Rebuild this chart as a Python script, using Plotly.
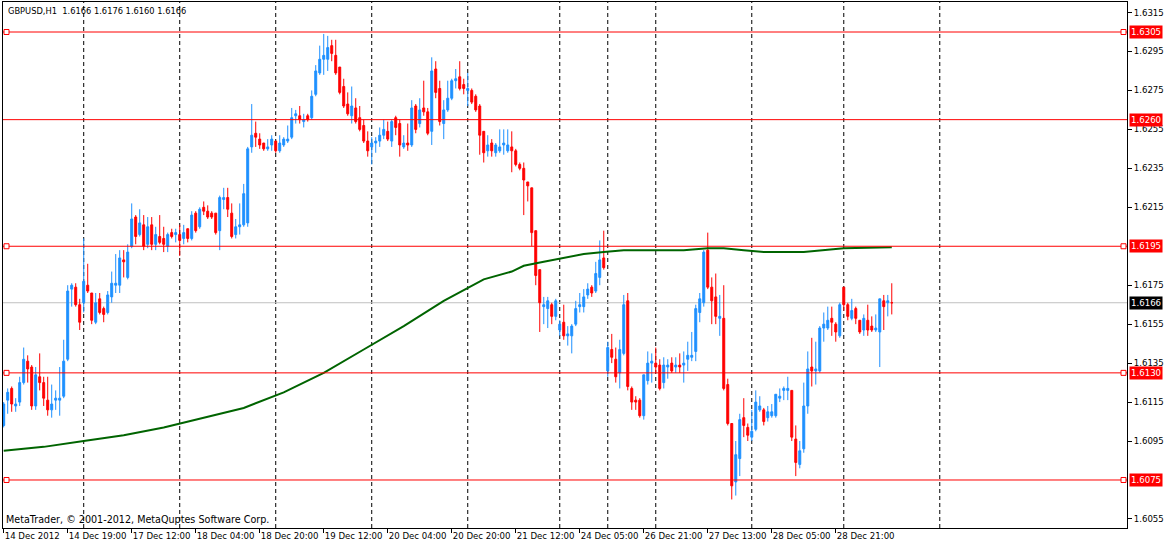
import plotly.graph_objects as go

# GBPUSD H1 bars (x = bar number from the left edge)
opens = [
    1.6103, 1.6116, 1.6122, 1.6113, 1.6115, 1.6125, 1.6136, 1.6133, 1.6113, 1.6128,
    1.6125, 1.6116, 1.6111, 1.6116, 1.6116, 1.6118, 1.6137, 1.6173, 1.6174, 1.6165,
    1.6166, 1.6175, 1.6171, 1.6156, 1.6168, 1.6163, 1.6161, 1.6169, 1.6175, 1.6175,
    1.6188, 1.6179, 1.6195, 1.6210, 1.6201, 1.6206, 1.6196, 1.6206, 1.6196, 1.6200,
    1.6199, 1.6195, 1.6202, 1.6201, 1.6201, 1.6199, 1.6204, 1.6199, 1.6212, 1.6205,
    1.6215, 1.6213, 1.6212, 1.6212, 1.6203, 1.6219, 1.6220, 1.6212, 1.6201, 1.6205,
    1.6206, 1.6207, 1.6246, 1.6253, 1.6250, 1.6248, 1.6245, 1.6247, 1.6249, 1.6244,
    1.6247, 1.6249, 1.6251, 1.6262, 1.6262, 1.6259, 1.6262, 1.6261, 1.6273, 1.6284,
    1.6291, 1.6291, 1.6298, 1.6293, 1.6287, 1.6277, 1.6268, 1.6262, 1.6266, 1.6261,
    1.6257, 1.6249, 1.6246, 1.6248, 1.6249, 1.6252, 1.6254, 1.6249, 1.6261, 1.6258,
    1.6246, 1.6248, 1.6247, 1.6267, 1.6258, 1.6266, 1.6264, 1.6254, 1.6286, 1.6276,
    1.6258, 1.6265, 1.6271, 1.6280, 1.6282, 1.6278, 1.6275, 1.6275, 1.6272, 1.6267,
    1.6254, 1.6244, 1.6248, 1.6243, 1.6244, 1.6247, 1.6244, 1.6246, 1.6244, 1.6237,
    1.6235, 1.6228, 1.6225, 1.6203, 1.6183, 1.6164, 1.6163, 1.6165, 1.6159, 1.6152,
    1.6156, 1.6149, 1.6149, 1.6155, 1.6164, 1.6164, 1.6170, 1.6174, 1.6172, 1.6179,
    1.6189, 1.6131, 1.6142, 1.6137, 1.6130, 1.6140, 1.6167, 1.6122, 1.6116, 1.6116,
    1.6108, 1.6126, 1.6135, 1.6135, 1.6134, 1.6125, 1.6133, 1.6135, 1.6133, 1.6134,
    1.6134, 1.6137, 1.6138, 1.6141, 1.6161, 1.6166, 1.6193, 1.6174, 1.6169, 1.6158,
    1.6158, 1.6124, 1.6104, 1.6074, 1.6086, 1.6107, 1.6102, 1.6097, 1.6101, 1.6111,
    1.6111, 1.6107, 1.6108, 1.6108, 1.6117, 1.6121, 1.6121, 1.6121, 1.6096, 1.6083,
    1.6091, 1.6113, 1.6133, 1.6131, 1.6131, 1.6153, 1.6153, 1.6158, 1.6155, 1.6149,
    1.6174, 1.6165, 1.6158, 1.6163, 1.6157, 1.6152, 1.6157, 1.6154, 1.6152, 1.6151,
    1.6167, 1.6166, 1.6166,
]
highs = [
    1.6115, 1.6122, 1.6123, 1.6117, 1.6128, 1.6143, 1.6139, 1.6134, 1.6133, 1.6140,
    1.6128, 1.6128, 1.6124, 1.6121, 1.6133, 1.6147, 1.6175, 1.6176, 1.6176, 1.6168,
    1.6199, 1.6186, 1.6171, 1.6171, 1.6171, 1.6164, 1.6172, 1.6182, 1.6191, 1.6193,
    1.6193, 1.6196, 1.6217, 1.6211, 1.6214, 1.6211, 1.6210, 1.6210, 1.6205, 1.6211,
    1.6205, 1.6202, 1.6204, 1.6204, 1.6206, 1.6206, 1.6204, 1.6213, 1.6213, 1.6215,
    1.6218, 1.6216, 1.6213, 1.6212, 1.6221, 1.6225, 1.6225, 1.6217, 1.6209, 1.6217,
    1.6227, 1.6246, 1.6268, 1.6259, 1.6253, 1.6248, 1.6250, 1.6252, 1.6249, 1.6252,
    1.6251, 1.6257, 1.6266, 1.6265, 1.6267, 1.6263, 1.6263, 1.6275, 1.6288, 1.6298,
    1.6304, 1.6303, 1.6301, 1.6301, 1.6287, 1.6281, 1.6274, 1.6277, 1.6271, 1.6267,
    1.6260, 1.6254, 1.6251, 1.6251, 1.6256, 1.6260, 1.6259, 1.6260, 1.6262, 1.6260,
    1.6252, 1.6258, 1.6270, 1.6268, 1.6271, 1.6280, 1.6266, 1.6292, 1.6290, 1.6280,
    1.6270, 1.6280, 1.6281, 1.6286, 1.6290, 1.6281, 1.6284, 1.6276, 1.6273, 1.6268,
    1.6254, 1.6252, 1.6250, 1.6248, 1.6255, 1.6255, 1.6255, 1.6254, 1.6245, 1.6238,
    1.6238, 1.6228, 1.6225, 1.6203, 1.6183, 1.6169, 1.6169, 1.6166, 1.6168, 1.6157,
    1.6165, 1.6154, 1.6155, 1.6167, 1.6171, 1.6173, 1.6176, 1.6175, 1.6187, 1.6198,
    1.6203, 1.6146, 1.6150, 1.6143, 1.6147, 1.6170, 1.6171, 1.6123, 1.6118, 1.6117,
    1.6129, 1.6141, 1.6140, 1.6143, 1.6137, 1.6138, 1.6137, 1.6138, 1.6138, 1.6140,
    1.6141, 1.6146, 1.6151, 1.6165, 1.6171, 1.6193, 1.6202, 1.6179, 1.6181, 1.6170,
    1.6175, 1.6127, 1.6104, 1.6095, 1.6109, 1.6117, 1.6104, 1.6111, 1.6121, 1.6118,
    1.6112, 1.6113, 1.6114, 1.6119, 1.6122, 1.6123, 1.6128, 1.6121, 1.6103, 1.6095,
    1.6125, 1.6141, 1.6148, 1.6146, 1.6154, 1.6161, 1.6164, 1.6164, 1.6156, 1.6166,
    1.6174, 1.6166, 1.6168, 1.6164, 1.6157, 1.6160, 1.6165, 1.6159, 1.6160, 1.6168,
    1.6170, 1.6170, 1.6176,
]
lows = [
    1.6102, 1.6109, 1.6110, 1.6110, 1.6113, 1.6124, 1.6125, 1.6111, 1.6111, 1.6121,
    1.6113, 1.6108, 1.6107, 1.6111, 1.6108, 1.6117, 1.6136, 1.6164, 1.6164, 1.6152,
    1.6161, 1.6171, 1.6155, 1.6155, 1.6160, 1.6156, 1.6160, 1.6166, 1.6171, 1.6171,
    1.6179, 1.6178, 1.6194, 1.6196, 1.6200, 1.6193, 1.6194, 1.6193, 1.6193, 1.6196,
    1.6192, 1.6192, 1.6199, 1.6197, 1.6190, 1.6196, 1.6197, 1.6198, 1.6202, 1.6204,
    1.6211, 1.6209, 1.6209, 1.6201, 1.6193, 1.6214, 1.6210, 1.6199, 1.6199, 1.6201,
    1.6205, 1.6205, 1.6243, 1.6246, 1.6245, 1.6244, 1.6244, 1.6244, 1.6243, 1.6243,
    1.6246, 1.6248, 1.6250, 1.6258, 1.6258, 1.6256, 1.6259, 1.6260, 1.6272, 1.6283,
    1.6283, 1.6285, 1.6290, 1.6283, 1.6273, 1.6266, 1.6262, 1.6258, 1.6258, 1.6254,
    1.6248, 1.6241, 1.6237, 1.6243, 1.6246, 1.6250, 1.6249, 1.6246, 1.6252, 1.6241,
    1.6245, 1.6244, 1.6246, 1.6253, 1.6256, 1.6262, 1.6252, 1.6247, 1.6271, 1.6257,
    1.6250, 1.6264, 1.6270, 1.6276, 1.6275, 1.6273, 1.6267, 1.6268, 1.6264, 1.6242,
    1.6238, 1.6241, 1.6241, 1.6241, 1.6243, 1.6242, 1.6243, 1.6233, 1.6236, 1.6234,
    1.6211, 1.6218, 1.6195, 1.6175, 1.6151, 1.6155, 1.6153, 1.6155, 1.6157, 1.6149,
    1.6147, 1.6144, 1.6140, 1.6154, 1.6161, 1.6161, 1.6168, 1.6169, 1.6171, 1.6175,
    1.6183, 1.6128, 1.6135, 1.6125, 1.6122, 1.6139, 1.6121, 1.6111, 1.6111, 1.6107,
    1.6106, 1.6124, 1.6125, 1.6130, 1.6121, 1.6122, 1.6127, 1.6130, 1.6130, 1.6130,
    1.6125, 1.6131, 1.6136, 1.6136, 1.6156, 1.6164, 1.6173, 1.6155, 1.6155, 1.6149,
    1.6121, 1.6103, 1.6065, 1.6067, 1.6077, 1.6097, 1.6095, 1.6095, 1.6100, 1.6110,
    1.6103, 1.6105, 1.6107, 1.6107, 1.6115, 1.6116, 1.6116, 1.6095, 1.6077, 1.6081,
    1.6089, 1.6109, 1.6123, 1.6124, 1.6130, 1.6146, 1.6152, 1.6149, 1.6146, 1.6148,
    1.6162, 1.6157, 1.6157, 1.6155, 1.6150, 1.6149, 1.6149, 1.6151, 1.6151, 1.6133,
    1.6152, 1.6159, 1.6160,
]
closes = [
    1.6114, 1.6120, 1.6114, 1.6114, 1.6125, 1.6137, 1.6132, 1.6113, 1.6129, 1.6125,
    1.6117, 1.6111, 1.6114, 1.6117, 1.6117, 1.6136, 1.6172, 1.6175, 1.6165, 1.6156,
    1.6177, 1.6172, 1.6157, 1.6166, 1.6161, 1.6160, 1.6170, 1.6176, 1.6176, 1.6189,
    1.6187, 1.6192, 1.6209, 1.6200, 1.6207, 1.6195, 1.6205, 1.6196, 1.6201, 1.6197,
    1.6196, 1.6201, 1.6200, 1.6202, 1.6198, 1.6202, 1.6199, 1.6211, 1.6203, 1.6214,
    1.6213, 1.6210, 1.6210, 1.6202, 1.6220, 1.6220, 1.6214, 1.6200, 1.6205, 1.6206,
    1.6222, 1.6245, 1.6252, 1.6251, 1.6247, 1.6245, 1.6246, 1.6250, 1.6244, 1.6248,
    1.6250, 1.6250, 1.6261, 1.6263, 1.6260, 1.6260, 1.6260, 1.6272, 1.6285, 1.6291,
    1.6293, 1.6297, 1.6294, 1.6284, 1.6274, 1.6267, 1.6263, 1.6267, 1.6259, 1.6255,
    1.6249, 1.6244, 1.6248, 1.6249, 1.6252, 1.6255, 1.6250, 1.6259, 1.6256, 1.6247,
    1.6248, 1.6247, 1.6266, 1.6255, 1.6265, 1.6264, 1.6253, 1.6285, 1.6274, 1.6259,
    1.6265, 1.6271, 1.6280, 1.6281, 1.6276, 1.6276, 1.6276, 1.6269, 1.6265, 1.6252,
    1.6243, 1.6247, 1.6244, 1.6247, 1.6246, 1.6248, 1.6247, 1.6244, 1.6237, 1.6235,
    1.6229, 1.6226, 1.6202, 1.6180, 1.6166, 1.6165, 1.6167, 1.6159, 1.6167, 1.6155,
    1.6149, 1.6150, 1.6154, 1.6163, 1.6165, 1.6169, 1.6173, 1.6171, 1.6181, 1.6188,
    1.6184, 1.6143, 1.6138, 1.6128, 1.6142, 1.6165, 1.6123, 1.6115, 1.6115, 1.6108,
    1.6129, 1.6135, 1.6136, 1.6133, 1.6122, 1.6134, 1.6134, 1.6131, 1.6134, 1.6133,
    1.6135, 1.6139, 1.6139, 1.6163, 1.6168, 1.6192, 1.6174, 1.6167, 1.6159, 1.6159,
    1.6122, 1.6104, 1.6072, 1.6088, 1.6106, 1.6103, 1.6098, 1.6100, 1.6115, 1.6113,
    1.6105, 1.6110, 1.6110, 1.6119, 1.6118, 1.6122, 1.6122, 1.6097, 1.6084, 1.6090,
    1.6113, 1.6132, 1.6131, 1.6132, 1.6153, 1.6155, 1.6157, 1.6156, 1.6151, 1.6165,
    1.6165, 1.6159, 1.6162, 1.6158, 1.6151, 1.6158, 1.6152, 1.6152, 1.6153, 1.6168,
    1.6164, 1.6167, 1.6166,
]
bars = list(range(len(closes)))

# moving average (dark green), read at a few bars
ma_bar = [0, 10, 20, 30, 40, 50, 60, 70, 80, 90, 100, 110, 120, 127, 130, 135, 140,
          145, 150, 155, 160, 170, 176, 180, 185, 190, 200, 210, 222]
ma_value = [1.6090, 1.6092, 1.6095, 1.6098, 1.6102, 1.6107, 1.6112, 1.6120, 1.6130,
            1.6142, 1.6154, 1.6167, 1.6178, 1.6182, 1.6185, 1.6187, 1.6189, 1.6191,
            1.6192, 1.6193, 1.6193, 1.6193, 1.6194, 1.6194, 1.6193, 1.6192, 1.6192,
            1.6194, 1.61945]

# horizontal line objects
level_lines = [1.6305, 1.6260, 1.6195, 1.6130, 1.6075]
level_selected = [True, False, True, True, True]

# price scale labels that are not hidden under the line labels
y_ticks = [1.6055, 1.6095, 1.6115, 1.6135, 1.6155, 1.6175,
           1.6215, 1.6235, 1.6255, 1.6275, 1.6295, 1.6315]

label_bars = [0, 16, 32, 48, 64, 80, 96, 112, 128, 144, 160, 176, 192, 208]
label_text = ['14 Dec 2012', '14 Dec 19:00', '17 Dec 12:00', '18 Dec 04:00',
              '18 Dec 20:00', '19 Dec 12:00', '20 Dec 04:00', '20 Dec 20:00',
              '21 Dec 12:00', '24 Dec 05:00', '26 Dec 21:00', '27 Dec 13:00',
              '28 Dec 05:00', '28 Dec 21:00']

# period separators (day starts)
day_sep_bars = [20, 44, 68, 92, 116, 139, 151, 163, 187, 210, 234]

BLUE = '#1E90FF'
RED = '#FF0000'
FONT = 'DejaVu Sans'
FS = 8.6

fig = go.Figure()

fig.add_trace(go.Candlestick(
    x=bars, open=opens, high=highs, low=lows, close=closes,
    increasing=dict(line=dict(color=BLUE, width=1), fillcolor=BLUE),
    decreasing=dict(line=dict(color=RED, width=1), fillcolor=RED),
    whiskerwidth=0,
    hoverinfo='skip',
))

fig.add_trace(go.Scatter(
    x=ma_bar, y=ma_value, mode='lines',
    line=dict(color='#006400', width=2),
    hoverinfo='skip',
))

shapes = []
for b in day_sep_bars:
    shapes.append(dict(type='line', xref='x', yref='paper', x0=b, x1=b, y0=0, y1=1,
                       line=dict(color='black', width=1, dash='4px,3px'), layer='below'))

bid = closes[-1]
shapes.append(dict(type='line', xref='paper', yref='y', x0=0, x1=1, y0=bid, y1=bid,
                   line=dict(color='#C0C0C0', width=1), layer='below'))

for lvl, sel in zip(level_lines, level_selected):
    shapes.append(dict(type='line', xref='paper', yref='y', x0=0, x1=1, y0=lvl, y1=lvl,
                       line=dict(color=RED, width=1)))
    if sel:
        for anchor, a, b in [(0, 1, 6), (1, -6, -1)]:
            shapes.append(dict(type='rect', xref='paper', yref='y',
                               xsizemode='pixel', xanchor=anchor, x0=a, x1=b,
                               ysizemode='pixel', yanchor=lvl, y0=-2.5, y1=2.5,
                               line=dict(color=RED, width=1), fillcolor='white'))

annotations = []
for lvl in level_lines:
    annotations.append(dict(x=1, xref='paper', y=lvl, yref='y', xanchor='left',
                            xshift=2, text=f'{lvl:.4f}', showarrow=False,
                            bgcolor=RED, borderpad=1,
                            font=dict(family=FONT, size=FS, color='white')))
annotations.append(dict(x=1, xref='paper', y=bid, yref='y', xanchor='left',
                        xshift=2, text=f'{bid:.4f}', showarrow=False,
                        bgcolor='black', borderpad=1,
                        font=dict(family=FONT, size=FS, color='white')))

annotations.append(dict(
    x=0, y=1, xref='paper', yref='paper', xanchor='left', yanchor='top',
    xshift=3, yshift=-2, showarrow=False,
    text=f'GBPUSD,H1&nbsp; {opens[-1]:.4f} {highs[-1]:.4f} {lows[-1]:.4f} {closes[-1]:.4f}',
    font=dict(family=FONT, size=8.3, color='black')))
annotations.append(dict(
    x=0, y=0, xref='paper', yref='paper', xanchor='left', yanchor='bottom',
    xshift=1, yshift=1, showarrow=False,
    text='MetaTrader, © 2001-2012, MetaQuptes Software Corp.',
    font=dict(family=FONT, size=9.6, color='black')))

fig.update_layout(
    width=1165, height=546,
    margin=dict(l=3, r=38, t=2, b=18),
    paper_bgcolor='white', plot_bgcolor='white',
    showlegend=False,
    font=dict(family=FONT, size=FS, color='black'),
    shapes=shapes,
    annotations=annotations,
    xaxis=dict(
        range=[-0.175, 280.8],
        rangeslider=dict(visible=False),
        showgrid=False, zeroline=False,
        showline=True, mirror=True, linecolor='black', linewidth=1,
        tickmode='array', tickvals=label_bars, ticktext=label_text,
        ticks='outside', ticklen=4, tickcolor='black',
        tickangle=0, ticklabelposition='outside right',
    ),
    yaxis=dict(
        side='right',
        range=[1.605035, 1.63204],
        showgrid=False, zeroline=False,
        showline=True, mirror=True, linecolor='black', linewidth=1,
        tickmode='array', tickvals=y_ticks, tickformat='.4f',
        ticks='outside', ticklen=4, tickcolor='black',
    ),
)

fig.write_html('out.html', config={'displayModeBar': False},
               post_script="document.body.style.margin='0';")
